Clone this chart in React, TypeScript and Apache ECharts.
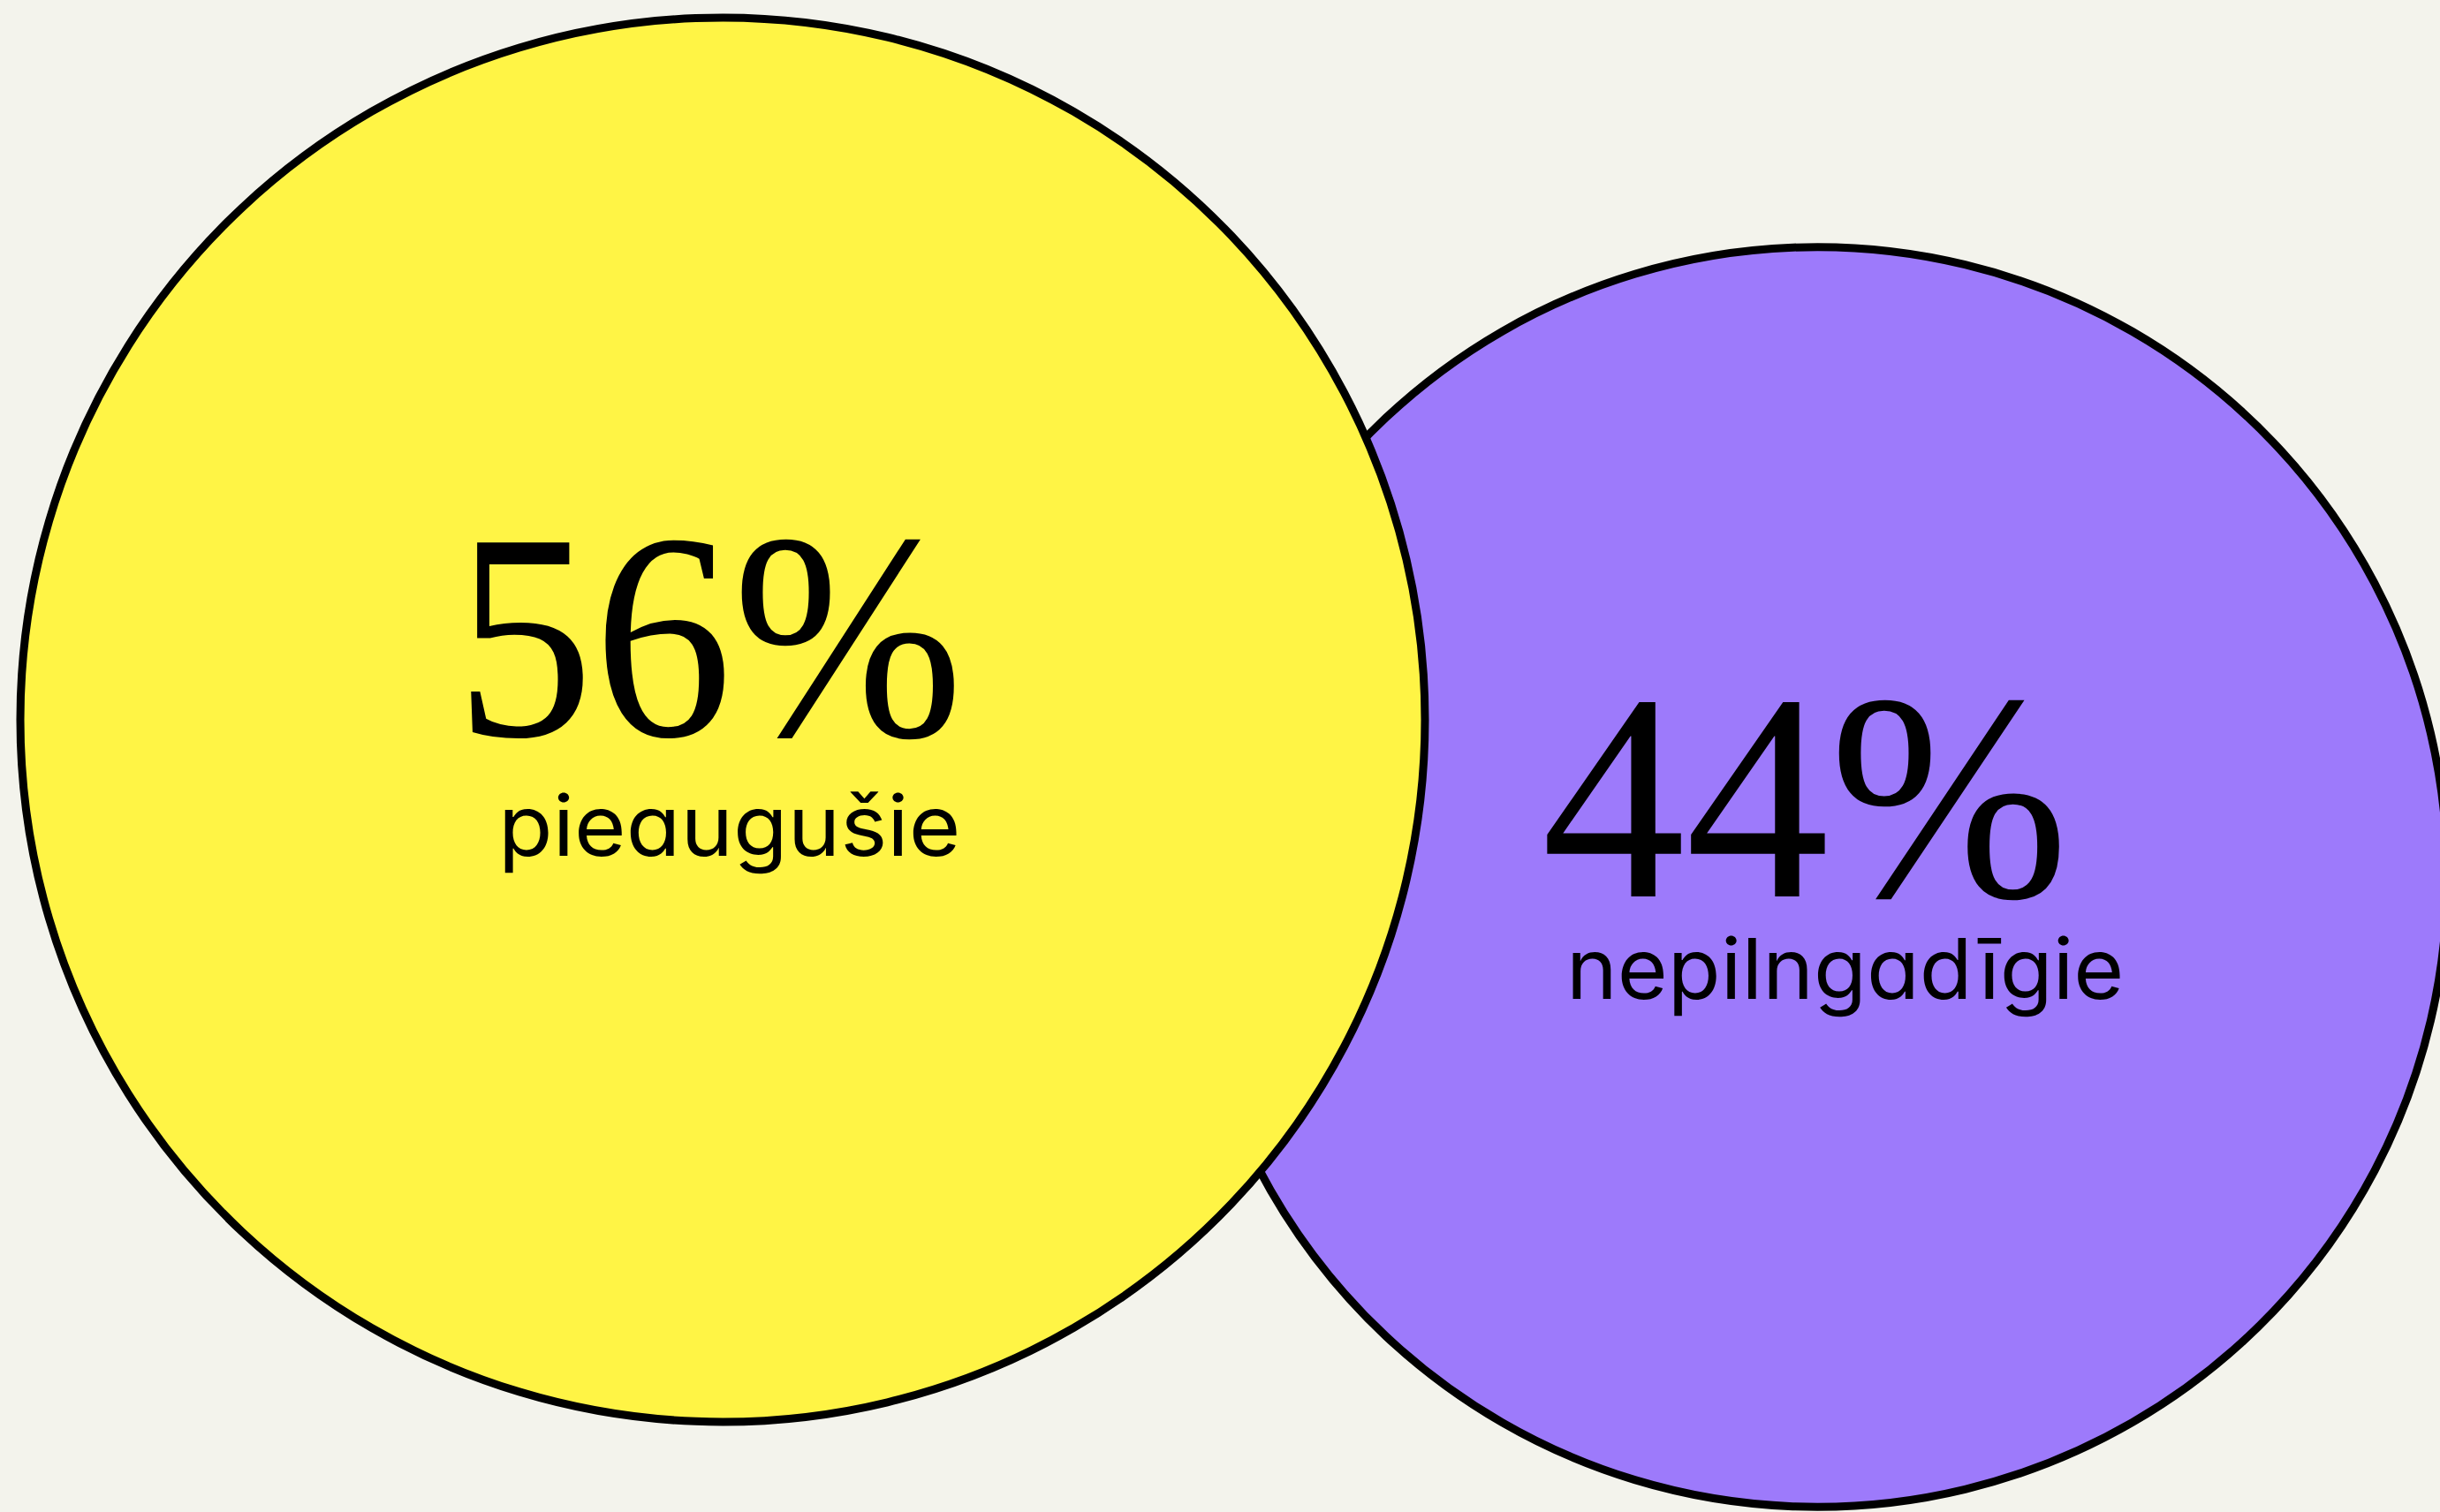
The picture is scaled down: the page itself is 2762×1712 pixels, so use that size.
import React, { useEffect, useRef } from "react";
import * as echarts from "echarts";

// ---- data ----
const categories: string[] = ["pieaugušie", "nepilngadīgie"];
const values: number[] = [56, 44];

const W = 2762;
const H = 1712;

export default function App() {
  const ref = useRef<HTMLDivElement>(null);

  useEffect(() => {
    if (!ref.current) return;
    document.body.style.margin = "0";
    document.body.style.background = "#F3F3EC";
    const chart = echarts.init(ref.current, undefined, { renderer: "svg" });

    // layout (pixel space of the hidden cartesian grid)
    const centers = [
      [818, 815],
      [2057, 993],
    ];
    const fills = ["#FFF445", "#9D7AFB"];
    const exponent = 0.45;
    const k = 1590 / Math.pow(values[0], exponent);
    const numberStyle = [
      { x: 515, y: 720, sx: 0.94 },
      { x: 1745, y: 902, sx: 0.975 },
    ];
    const labelStyle = [
      { x: 564, y: 935, sx: 1.06 },
      { x: 1773, y: 1097, sx: 1.03 },
    ];

    const series = categories.map((name, i) => ({
      type: "scatter",
      name,
      z: 10 - i,
      symbol: "circle",
      symbolSize: (v: number[]) => k * Math.pow(v[2], exponent),
      itemStyle: {
        color: fills[i],
        borderColor: "#000000",
        borderWidth: 9,
        opacity: 1,
      },
      emphasis: { disabled: true },
      silent: true,
      data: [[centers[i][0], centers[i][1], values[i]]],
    }));

    const graphics: any[] = [];
    categories.forEach((name, i) => {
      graphics.push({
        type: "text",
        x: numberStyle[i].x,
        y: numberStyle[i].y,
        scaleX: numberStyle[i].sx,
        z: 100,
        silent: true,
        style: {
          text: `${values[i]}%`,
          fontFamily: "Liberation Serif",
          fontSize: 334,
          fontWeight: "normal",
          fill: "#000000",
          align: "left",
          verticalAlign: "middle",
          textAlign: "left",
          textVerticalAlign: "middle",
        },
      });
      graphics.push({
        type: "text",
        x: labelStyle[i].x,
        y: labelStyle[i].y,
        scaleX: labelStyle[i].sx,
        z: 100,
        silent: true,
        style: {
          text: name,
          fontFamily: "Inter",
          fontSize: 95,
          fontWeight: "normal",
          fill: "#000000",
          align: "left",
          verticalAlign: "middle",
          textAlign: "left",
          textVerticalAlign: "middle",
        },
      });
    });

    chart.setOption({
      animation: false,
      backgroundColor: "#F3F3EC",
      grid: { left: 0, right: 0, top: 0, bottom: 0, containLabel: false },
      xAxis: { type: "value", min: 0, max: W, show: false },
      yAxis: { type: "value", min: 0, max: H, inverse: true, show: false },
      tooltip: { show: false },
      series,
      graphic: { elements: graphics },
    });

    return () => chart.dispose();
  }, []);

  return (
    <>
      <style>{"#root text { font-feature-settings: 'cv11' 1; }"}</style>
      <div
        ref={ref}
        style={{ position: "fixed", left: 0, top: 0, width: W + "px", height: H + "px" }}
      />
    </>
  );
}
